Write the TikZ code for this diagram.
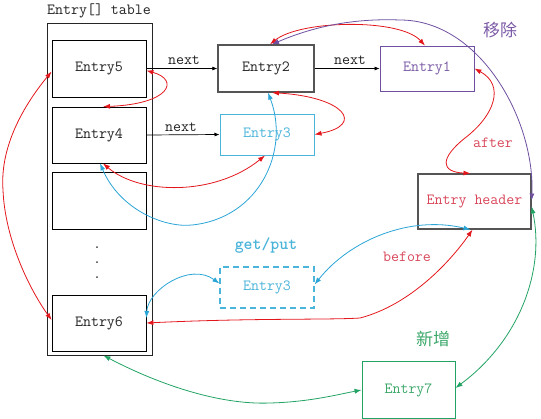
\documentclass[tikz,border=0pt]{standalone}
\usepackage{fontspec}
\newfontfamily\cjk{Noto Sans CJK SC}
\usetikzlibrary{arrows.meta}
\definecolor{cred}{HTML}{E3161C}
\definecolor{tred}{HTML}{D9475A}
\definecolor{ccyan}{HTML}{2AA5D6}
\definecolor{tcyan}{HTML}{4BB4DA}
\definecolor{cpurple}{HTML}{6E4FA0}
\definecolor{tpurple}{HTML}{7B5AA6}
\definecolor{cgreen}{HTML}{22A363}
\definecolor{tgreen}{HTML}{3DA86A}
\definecolor{cgray}{HTML}{555555}
\definecolor{ctext}{HTML}{222222}
\tikzset{
  tt/.style={font=\ttfamily\fontsize{15.5}{18}\selectfont},
  box/.style={draw, line width=0.75pt, fill=white, inner sep=0pt, text=ctext, tt},
  gbox/.style={draw=cgray, line width=1.3pt, fill=white, inner sep=0pt, text=ctext, tt},
  nextarr/.style={draw=black, line width=0.7pt, -{Latex[length=5pt,width=4pt]}},
  redc/.style={draw=cred, line width=0.8pt, {Latex[length=7pt,width=5pt]}-{Latex[length=7pt,width=5pt]}},
  cyanc/.style={draw=ccyan, line width=0.8pt, {Latex[length=7pt,width=5pt]}-{Latex[length=7pt,width=5pt]}},
  purc/.style={draw=cpurple, line width=0.8pt, {Latex[length=7pt,width=5pt]}-{Latex[length=7pt,width=5pt]}},
  grnc/.style={draw=cgreen, line width=0.8pt, {Latex[length=7pt,width=5pt]}-{Latex[length=7pt,width=5pt]}},
  lbl/.style={inner sep=0pt, text=ctext, tt},
}
\begin{document}
\begin{tikzpicture}[x=1pt,y=-1pt]
\useasboundingbox (0,0) rectangle (541,418);
% table
\node[draw=black!85, line width=1pt, minimum width=105pt, minimum height=332pt, inner sep=0pt] (tbl) at (99.5,189) {};
\node[lbl] (title) at (99,11) {Entry[] table};
\node[box, minimum width=94pt, minimum height=57pt] (e5) at (99,68.5) {Entry5};
\node[box, minimum width=94pt, minimum height=56pt] (e4) at (99,135) {Entry4};
\node[box, minimum width=94pt, minimum height=57pt] (eb) at (99,200.5) {};
\node[box, minimum width=94pt, minimum height=56pt] (e6) at (99,323) {Entry6};
\node[lbl] (dots) at (97,260) {\begin{tabular}{@{}c@{}}.\\[-3pt].\\[-3pt].\end{tabular}};
% right side nodes
\node[gbox, minimum width=96pt, minimum height=47pt] (e2) at (266,68.5) {Entry2};
\node[box, draw=cpurple, line width=0.8pt, text=tpurple, minimum width=94pt, minimum height=45pt] (e1) at (427,68.5) {Entry1};
\node[box, draw=tcyan, line width=1pt, text=tcyan, minimum width=94pt, minimum height=41pt] (e3) at (267,134.5) {Entry3};
\node[gbox, text=tred, minimum width=113pt, minimum height=55pt] (eh) at (474.5,201.5) {Entry header};
\node[box, draw=tcyan, dashed, dash pattern=on 6pt off 4pt, line width=1.2pt, text=tcyan, minimum width=94pt, minimum height=41pt] (e3d) at (267,287.5) {Entry3};
\node[box, draw=cgreen, line width=0.9pt, text=tgreen, minimum width=93pt, minimum height=57pt] (e7) at (408.5,390) {Entry7};
% labels
\node[lbl] (n1) at (184,60) {next};
\node[lbl] (n2) at (350,60) {next};
\node[lbl] (n3) at (181,127) {next};
\node[inner sep=0pt, text=tpurple, font=\cjk\fontsize{17}{20}\selectfont] (rm) at (500,30) {移除};
\node[inner sep=0pt, text=tgreen, font=\cjk\fontsize{17}{20}\selectfont] (add) at (433,339) {新增};
\node[lbl, text=tred] (after) at (493,143) {after};
\node[lbl, text=tred] (before) at (407,257) {before};
\node[inner sep=0pt, text=tcyan, font=\ttfamily\bfseries\fontsize{17}{20}\selectfont] (gp) at (266,246) {get/put};
% next arrows
\draw[nextarr] (e5.east) -- (e2.west);
\draw[nextarr] (e2.east) -- (e1.west);
\draw[nextarr] (e4.east) -- (e3.west);
% red connectors
\draw[redc] ([yshift=-2pt]e5.east) .. controls (180,80) and (170,104) .. ([xshift=4pt]e4.north);
\draw[redc] ([xshift=4pt]e2.north) .. controls (300,20) and (400,18) .. ([xshift=-2pt]e1.north);
\draw[redc] ([xshift=6pt]e2.south) .. controls (345,97) and (365,125) .. (e3.east);
\draw[redc] (e1.east) .. controls (505,85) and (495,115) .. (465,138) .. controls (440,158) and (440,172) .. ([xshift=-4pt]eh.north);
\draw[redc] ([xshift=4pt]e4.south) .. controls (140,195) and (215,196) .. ([xshift=-2pt]e3.south);
\draw[redc] (e6.east) .. controls (250,318) and (330,320) .. (360,318) .. controls (410,305) and (450,262) .. ([xshift=-2pt]eh.south);
\draw[redc] ([yshift=-3pt]e5.west) .. controls (20,110) and (0,150) .. (3,190) .. controls (5,240) and (30,290) .. ([yshift=3pt]e6.west);
% purple
\draw[purc] ([xshift=6pt]e2.north) .. controls (310,28) and (350,18) .. (400,20) .. controls (480,20) and (535,120) .. ([yshift=1pt]eh.east);
% cyan
\draw[cyanc] ([xshift=1pt]e4.south) .. controls (120,210) and (165,228) .. (192,225) .. controls (260,218) and (290,150) .. ([xshift=2pt]e2.south);
\draw[cyanc] ([yshift=5pt]e6.east) .. controls (148,290) and (190,262) .. ([yshift=4pt]e3d.west);
\draw[cyanc] ([yshift=3pt]e3d.east) .. controls (350,240) and (410,215) .. ([xshift=-4pt]eh.south);
% green
\draw[grnc] ([xshift=4pt]tbl.south) .. controls (160,385) and (220,405) .. (270,403) .. controls (310,402) and (340,394) .. (e7.west);
\draw[grnc] ([yshift=-5pt]eh.east) .. controls (545,270) and (520,340) .. ([yshift=2pt]e7.east);
\end{tikzpicture}
\end{document}
